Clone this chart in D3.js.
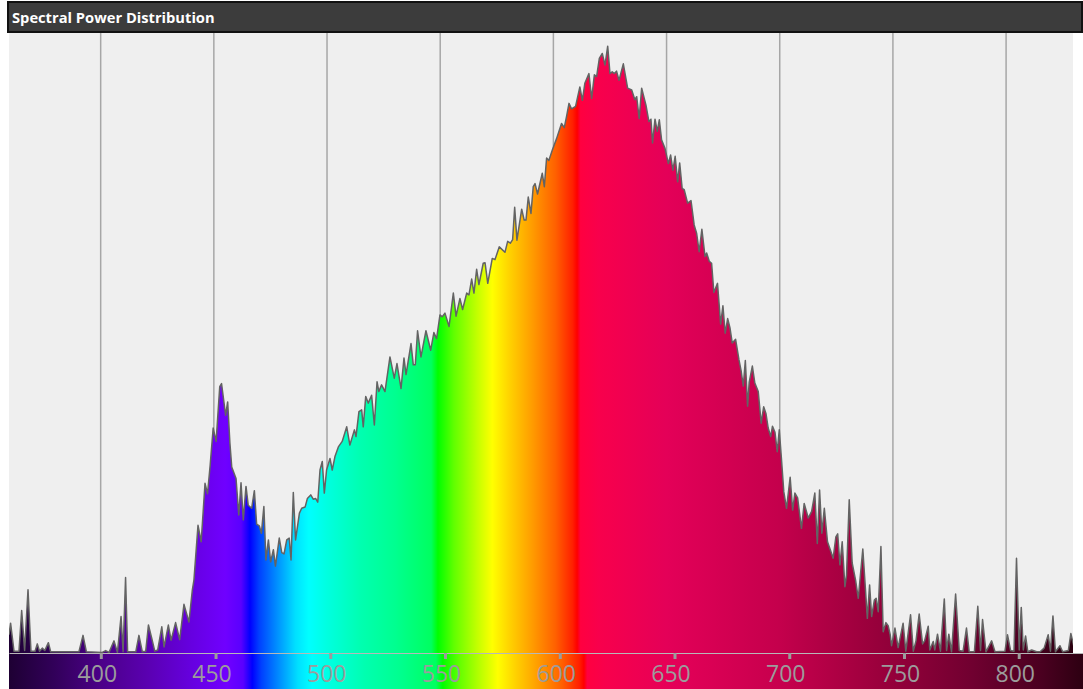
<!DOCTYPE html>
<html>
<head>
<meta charset="utf-8">
<script src="https://cdn.jsdelivr.net/npm/d3@7"></script>
<style>
  body { margin: 0; background: #fff; }
  svg { display: block; }
</style>
</head>
<body>
<div id="chart"></div>
<script>
const chartTitle = "Spectral Power Distribution";
const wavelengthTicks = [400, 450, 500, 550, 600, 650, 700, 750, 800];

// [wavelength nm, relative power %]
const spectrum = [
  [359.5, 3], [360.2, 4.9], [361.7, 0.3], [363.9, 0.3], [365.1, 7], [366.4, 0.4], [367.9, 10.4], [369.2, 0.3],
  [371, 0.3], [372, 1.5], [373, 0.3], [374.2, 0.8], [375.3, 0.4], [376.9, 1.7], [377.9, 0.2], [390.4, 0.2],
  [392.2, 2.9], [393.7, 0.2], [400.7, 0.1], [402.2, 0.4], [403.7, 0.1], [405.9, 2], [407.4, 0.1], [409, 6],
  [409.9, 0.2], [411, 12.4], [411.9, 0.2], [415.5, 0.2], [416.9, 2.9], [418.4, 0.2], [419.9, 0.3], [421.1, 4.6],
  [422.5, 2.5], [423.9, 0.3], [425.2, 0.5], [427, 4.3], [428, 1], [429.9, 4.6], [431.1, 2.1], [433.1, 5],
  [434.9, 2.2], [436.8, 8], [439, 5.1], [440.5, 10.4], [441.2, 12], [443, 21], [444.4, 18.3], [446.1, 27.9],
  [447.2, 26.2], [448.4, 31], [449.7, 37], [451, 34.8], [452.6, 43.8], [453.4, 44.3], [455.2, 39.1], [456.1, 41.3],
  [457.1, 34.5], [457.9, 30.6], [459.8, 28.7], [461, 22.7], [462, 28], [463, 21.9], [464.2, 27.4], [465.2, 24.3],
  [466.7, 23.8], [467.9, 26.7], [468.9, 21.2], [470.1, 20.9], [471, 19.7], [472.1, 24.1], [473, 15.3], [474.1, 18.6],
  [475.1, 15], [476.3, 17], [477.2, 14.3], [478.9, 18.9], [480, 16.5], [481, 16.3], [482.2, 18.6], [483.3, 18.9],
  [484.1, 15.3], [485.1, 26.4], [486.1, 18.6], [487.8, 23], [488.8, 23.8], [490.3, 24], [491.3, 25.4], [492.8, 26],
  [493.9, 25.3], [495, 25.4], [495.9, 24.8], [496.9, 30.1], [497.9, 31.5], [498.8, 26.3], [499.8, 30.1], [501.3, 32],
  [502.3, 30.1], [503.5, 32.3], [505, 33.9], [506.7, 34.8], [508.7, 37.2], [510.1, 34.2], [512.1, 36.7], [512.8, 35.6],
  [514.1, 39.7], [515.3, 40], [516, 37.2], [517.1, 42.2], [518.2, 41.1], [519.7, 42.4], [520.9, 37.5], [522.1, 44.6],
  [522.9, 43], [524.1, 44.1], [525.6, 43], [527.8, 48.7], [529.7, 45.2], [530.9, 47.6], [532.7, 43.5], [534, 48.5],
  [534.9, 45.8], [537.1, 50.9], [538.1, 47.4], [539, 47.4], [540, 53], [541.5, 48.7], [543.7, 53], [545.8, 49.8],
  [547.2, 52.7], [548.4, 51.7], [549.9, 55.6], [550.9, 55.3], [552.1, 55.9], [553.9, 53.7], [555.8, 59.2], [557, 55.4],
  [558.7, 58.3], [559.9, 56.5], [561.7, 59.2], [562.7, 58.9], [563.9, 61.5], [564.9, 59.2], [566.1, 63.1], [567.1, 60.6],
  [569, 64.1], [569.8, 64.2], [571, 60.8], [573, 64.9], [574.2, 64.7], [576.1, 66.8], [578.6, 65.9], [579.8, 67.7],
  [581, 67.4], [582, 68], [582.9, 73.3], [583.9, 67.9], [586, 73], [587.1, 71.2], [587.9, 71.2], [588.9, 75],
  [590.1, 72.3], [591.1, 76.7], [591.9, 77.2], [593, 75.5], [595.1, 78.9], [596, 76.7], [597, 81.4], [598, 81],
  [599.5, 82.7], [601.4, 84.6], [603.6, 87.1], [604.8, 86.4], [605.8, 88.2], [606.9, 90.4], [608, 89.5], [609.8, 89.9],
  [611.7, 93.1], [612.8, 90.9], [613.9, 93.7], [615.7, 95.3], [616.9, 91.2], [618.1, 95.1], [619.1, 94.8], [620.3, 97.8],
  [621.6, 98.6], [622.8, 96.7], [624, 99.8], [625, 95.3], [626, 95.6], [626.9, 95.3], [627.9, 95.7], [629, 94.2],
  [630.9, 96.9], [632.8, 92.9], [634.6, 92.6], [636, 91], [636.8, 91.5], [637.9, 87.9], [639, 92.9], [640.9, 90.1],
  [642.2, 87.4], [643.1, 87.8], [643.8, 83.9], [644.9, 87.8], [645.9, 85.8], [646.8, 87.7], [647.8, 84.4], [649.3, 83],
  [650.8, 80.5], [651.8, 81.9], [652.8, 79.4], [653.8, 81.7], [654.9, 77.5], [655.8, 80.6], [656.9, 76.4], [657.8, 76.2],
  [659.3, 74], [660.8, 74.4], [662.2, 70.4], [663.3, 69], [664.4, 66], [665.6, 69.7], [667, 65.2], [667.7, 65.8],
  [668.9, 64.4], [669.9, 64.1], [670.9, 59.3], [672.5, 60.8], [673.9, 54.1], [674.9, 57.1], [675.9, 52.6], [677, 55],
  [678, 53.5], [679, 51], [680.5, 51.6], [682, 48.2], [682.9, 46.5], [683.9, 43.9], [684.8, 48.1], [685.8, 40.6],
  [686.5, 44.5], [687.9, 47.2], [689, 44.4], [690.5, 43], [691.8, 37.8], [692.9, 40.5], [693.9, 39.4], [694.9, 37],
  [696, 35.6], [696.8, 37.3], [697.9, 36.3], [698.9, 33.1], [699.8, 36.7], [700.8, 31.7], [701.8, 26.5], [703, 23.8],
  [704.6, 28.9], [705.7, 23.5], [706.7, 26.3], [707.9, 25.5], [709.6, 20.5], [710.8, 24.6], [712.6, 22.2], [714.1, 23.3],
  [715.5, 26.3], [716.6, 18], [717.6, 26.8], [718.6, 19.7], [719.7, 23.8], [721.1, 18.3], [722.6, 16.7], [723.6, 15.6],
  [724.8, 19.1], [725.6, 19.6], [726.6, 14.5], [727.6, 18.3], [728.8, 10.9], [729.5, 12.8], [730.7, 25.2], [732, 14.8],
  [733.5, 12], [734.7, 9], [736.7, 17.1], [737.6, 12], [738.7, 5.7], [739.7, 11.2], [740.6, 6], [741.8, 8.7],
  [742.6, 9], [743.5, 6.8], [744.7, 17.5], [745.7, 3.5], [746.9, 5], [747.9, 4.5], [748.8, 3], [749.4, 1.2],
  [750.9, 4.1], [752.3, 0.9], [754.5, 4.9], [755.7, 0.3], [757.8, 6.3], [759, 0.3], [760.2, 2], [761.6, 6.4],
  [763.1, 1.5], [764, 2], [765.6, 4.4], [766.3, 0.5], [767.8, 1.9], [768.5, 0.5], [769.7, 3.1], [771, 0.3],
  [772.7, 8.9], [773.7, 0.4], [774.7, 3.1], [775.9, 0.2], [777.7, 9.7], [779.3, 0.4], [781, 0.3], [782.5, 4.1],
  [783.7, 0.2], [786, 0.2], [787.5, 7.7], [788.7, 0.4], [789.6, 5.5], [791.1, 0.2], [793.6, 2], [795.1, 0.2],
  [799.5, 0.3], [800.6, 3], [802, 0.4], [803.5, 0.3], [804.6, 15.6], [805.8, 0.5], [806.7, 7.5], [807.6, 0.5],
  [808.6, 2.8], [809.6, 0.2], [811.3, 0.5], [813.5, 0.2], [815, 0.2], [816.8, 0.8], [818.6, 3], [819.6, 0.3],
  [820.7, 6.1], [821.8, 0.2], [823.8, 1.2], [825, 0.2], [827.5, 0.4], [828.6, 3.2], [830, 1]
];

// wavelength -> display colour
const colorStops = [
  [360, "#1e0033"], [380, "#32005a"], [400, "#4b0088"], [420, "#5a00b0"], [440, "#6600e0"],
  [455, "#7000ff"], [462, "#5a00ff"], [466, "#0000ff"], [470, "#0040ff"], [478, "#0090ff"],
  [486, "#00e0ff"], [492, "#00ffff"], [500, "#00ffe0"], [515, "#00ffb0"], [530, "#00ff90"],
  [546, "#00ff60"], [549, "#00ff00"], [556, "#60ff00"], [566, "#c0ff00"], [573, "#ffff00"],
  [581, "#ffd000"], [591, "#ff9a00"], [601, "#ff6000"], [608.5, "#ff2000"], [610.5, "#ff0000"],
  [612, "#ff0040"], [620, "#f8004c"], [650, "#e40058"], [700, "#c4004c"], [740, "#9a003c"],
  [780, "#700030"], [810, "#4a0020"], [830, "#2a0010"]
];

const width = 1083;
const height = 689;
const plotLeft = 9, plotRight = 1073, plotTop = 33, plotBottom = 653;

const svg = d3.select("#chart")
  .append("svg")
  .attr("width", width)
  .attr("height", height)
  .style("background-color", "#fff");

const x = d3.scaleLinear().domain([359.5, 830]).range([plotLeft, 1074]);
const xBar = d3.scaleLinear().domain([360, 828]).range([plotLeft, width]);
const y = d3.scaleLinear().domain([0, 100]).range([plotBottom, 45]);

const defs = svg.append("defs");

function addGradient(id, scale) {
  const lo = colorStops[0][0], hi = colorStops[colorStops.length - 1][0];
  const grad = defs.append("linearGradient")
    .attr("id", id)
    .attr("gradientUnits", "userSpaceOnUse")
    .attr("x1", scale(lo)).attr("x2", scale(hi))
    .attr("y1", 0).attr("y2", 0);
  grad.selectAll("stop")
    .data(colorStops)
    .join("stop")
    .attr("offset", (d) => (d[0] - lo) / (hi - lo))
    .attr("stop-color", (d) => d[1]);
}
addGradient("areaGrad", x);
addGradient("barGrad", xBar);

defs.append("clipPath").attr("id", "plotClip")
  .append("rect")
  .attr("x", plotLeft).attr("y", plotTop)
  .attr("width", plotRight - plotLeft).attr("height", plotBottom - plotTop);

// plot background
svg.append("rect")
  .attr("x", plotLeft).attr("y", plotTop)
  .attr("width", plotRight - plotLeft).attr("height", plotBottom - plotTop)
  .attr("fill", "#efefef");

// vertical grid
svg.append("g")
  .selectAll("line")
  .data(wavelengthTicks)
  .join("line")
  .attr("x1", (d) => x(d)).attr("x2", (d) => x(d))
  .attr("y1", plotTop).attr("y2", plotBottom)
  .attr("stroke", "#a6a6a6")
  .attr("stroke-width", 1.5);

const g = svg.append("g").attr("clip-path", "url(#plotClip)");

const area = d3.area()
  .x((d) => x(d[0]))
  .y0(y(0))
  .y1((d) => y(d[1]));

const line = d3.line()
  .x((d) => x(d[0]))
  .y((d) => y(d[1]));

g.append("path")
  .datum(spectrum)
  .attr("d", area)
  .attr("fill", "url(#areaGrad)");

g.append("path")
  .datum(spectrum)
  .attr("d", line)
  .attr("fill", "none")
  .attr("stroke", "#636363")
  .attr("stroke-width", 1.5)
  .attr("stroke-linejoin", "round");

// colour bar with wavelength axis
svg.append("rect")
  .attr("x", plotLeft).attr("y", plotBottom)
  .attr("width", width - plotLeft).attr("height", height - plotBottom)
  .attr("fill", "url(#barGrad)");

const axis = svg.append("g")
  .attr("transform", `translate(0,${plotBottom})`)
  .call(d3.axisBottom(xBar).tickValues(wavelengthTicks).tickSize(6).tickSizeOuter(0));

axis.select(".domain").attr("stroke", "#b8b8b8").attr("stroke-width", 1);
axis.selectAll(".tick line").attr("stroke", "#9c9c9c").attr("stroke-width", 3);
axis.selectAll(".tick text")
  .attr("x", -4)
  .attr("y", 29)
  .attr("dy", null)
  .attr("fill", "#9c9c9c")
  .style("font-family", "'Open Sans', sans-serif")
  .style("font-size", "23px");

// title bar
svg.append("rect")
  .attr("x", 8).attr("y", 2)
  .attr("width", width - 9).attr("height", 30)
  .attr("fill", "#3c3c3c")
  .attr("stroke", "#111")
  .attr("stroke-width", 2);

svg.append("text")
  .attr("x", 12)
  .attr("y", 23)
  .attr("fill", "#fff")
  .style("font-family", "'Open Sans', sans-serif")
  .style("font-weight", "bold")
  .style("font-size", "14.7px")
  .text(chartTitle);
</script>
</body>
</html>
